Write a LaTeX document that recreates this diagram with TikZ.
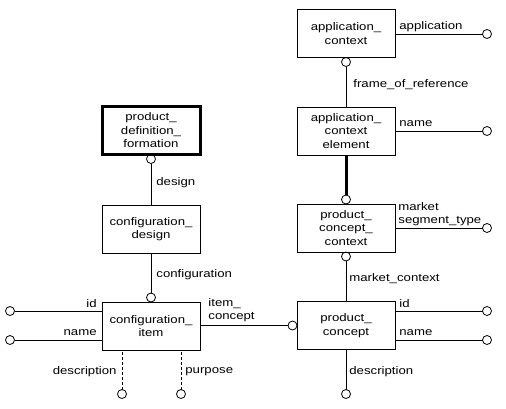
\documentclass[tikz,border=0pt]{standalone}
\usepackage{fontspec}
\setmainfont{Liberation Sans}[FakeStretch=1.2]
\usetikzlibrary{positioning}

\begin{document}
\begin{tikzpicture}[x=1pt,y=-1pt,line width=0.8pt,font=\fontsize{11}{13.5}\selectfont,
    entity/.style={draw,minimum width=98pt,minimum height=48pt,align=center,inner sep=1pt,outer sep=0pt},
    endring/.style={draw,circle,minimum size=9pt,inner sep=0pt,outer sep=0pt,node distance=0pt},
    lbl/.style={inner sep=0pt,align=left}]
\useasboundingbox (0,0) rectangle (506,408);
% entities
\node[entity] (ac) at (346,33.5) {application\_\\context};
\node[entity] (ace) at (346,131) {application\_\\context\\element};
\node[entity] (pcc) at (346,228) {product\_\\concept\_\\context};
\node[entity] (pc) at (346,325.5) {product\_\\concept};
\node[entity,line width=3pt] (pdf) at (151,130.5) {product\_\\definition\_\\formation};
\node[entity] (cd) at (151,229) {configuration\_\\design};
\node[entity] (ci) at (151,326) {configuration\_\\item};
% relationship ends
\node[endring,below=of ac] (acb) {};
\node[endring,above=of pcc] (pcct) {};
\node[endring,below=of pcc] (pccb) {};
\node[endring,left=of pc] (pcl) {};
\node[endring,below=of pdf] (pdfb) {};
\node[endring,above=of ci] (cit) {};
\draw (acb) -- (ace);
\draw[line width=3pt] (ace) -- (pcct);
\draw (pccb) -- (pc);
\draw (pcl) -- (pcl -| ci.east);
\draw (pdfb) -- (cd);
\draw (cd) -- (cit);
% attributes
\node[endring] (acapp) at (487,34) {};
\node[endring] (acename) at (487,131) {};
\node[endring] (pccmst) at (487,228) {};
\node[endring] (pcid) at (487,311) {};
\node[endring] (pcname) at (487,340) {};
\node[endring] (pcdesc) at (346,394) {};
\node[endring] (ciid) at (10,311) {};
\node[endring] (ciname) at (10,340) {};
\node[endring] (cidesc) at (122,394) {};
\node[endring] (cipurp) at (181,394) {};
\draw (acapp) -- (acapp -| ac.east);
\draw (acename) -- (acename -| ace.east);
\draw (pccmst) -- (pccmst -| pcc.east);
\draw (pcid) -- (pcid -| pc.east);
\draw (pcname) -- (pcname -| pc.east);
\draw (pcdesc) -- (pc);
\draw (ciid) -- (ciid -| ci.west);
\draw (ciname) -- (ciname -| ci.west);
\draw[dashed,dash pattern=on 3pt off 2pt] (cidesc) -- (cidesc |- ci.south);
\draw[dashed,dash pattern=on 3pt off 2pt] (cipurp) -- (cipurp |- ci.south);
% labels
\node[lbl,anchor=west] (lapp) at (399,27) {application};
\node[lbl,anchor=west] (lfor) at (353,85) {frame\_of\_reference};
\node[lbl,anchor=west] (lacen) at (399,124) {name};
\node[lbl,anchor=west] (lmst) at (398,214) {market\\segment\_type};
\node[lbl,anchor=west] (lmc) at (349,279) {market\_context};
\node[lbl,anchor=west] (lpcid) at (399,304) {id};
\node[lbl,anchor=west] (lpcn) at (399,333) {name};
\node[lbl,anchor=west] (lpcd) at (349,372) {description};
\node[lbl,anchor=west] (ldes) at (156,183) {design};
\node[lbl,anchor=west] (lconf) at (156,275) {configuration};
\node[lbl,anchor=west] (lic) at (208,310) {item\_\\concept};
\node[lbl,anchor=east] (lciid) at (97,304) {id};
\node[lbl,anchor=east] (lcin) at (97,333) {name};
\node[lbl,anchor=east] (lcid) at (117,372) {description};
\node[lbl,anchor=west] (lpur) at (185,372) {purpose};
\end{tikzpicture}
\end{document}
